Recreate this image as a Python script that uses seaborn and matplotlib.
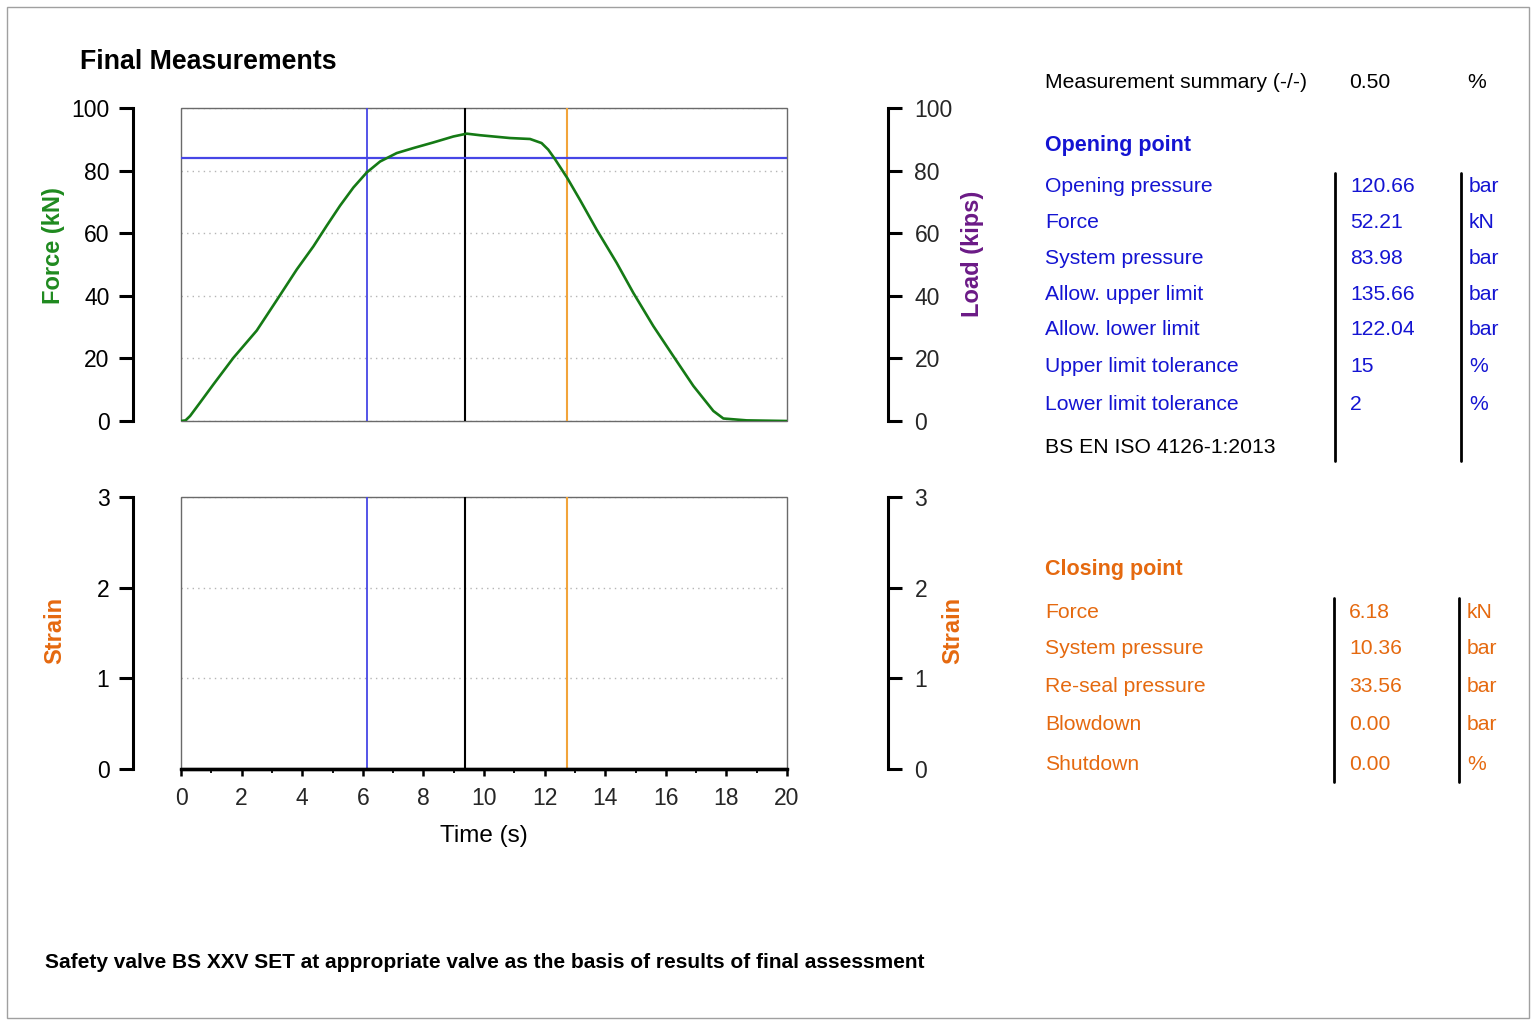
import matplotlib
matplotlib.use("Agg")
import matplotlib.pyplot as plt
import seaborn as sns
import pandas as pd
from matplotlib.patches import Rectangle
from matplotlib.lines import Line2D
from matplotlib.ticker import MultipleLocator

# ---------------- data ----------------
time_s = [0, 0.15, 0.30, 0.63, 1.07, 1.73, 2.50, 3.16, 3.82, 4.37, 4.81, 5.25, 5.69,
          6.13, 6.57, 7.12, 7.67, 8.33, 8.99, 9.43, 9.87, 10.86, 11.52, 11.90, 12.12,
          12.34, 12.75, 13.17, 13.72, 14.38, 14.93, 15.59, 16.25, 16.91, 17.57, 17.90,
          18.67, 20]
force_kN = [0, 0.2, 1.6, 5.9, 11.7, 20.2, 28.9, 38.6, 48.4, 55.8, 62.4, 68.8, 74.6,
            79.4, 82.9, 85.6, 87.2, 89.0, 90.9, 91.8, 91.3, 90.4, 90.1, 88.8, 86.7,
            83.7, 77.6, 70.6, 61.1, 50.5, 40.9, 30.3, 20.7, 11.2, 3.2, 0.8,
            0.2, 0]
strain_time = [0, 5, 10, 15, 20]
strain_vals = [0, 0, 0, 0, 0]

opening_time = 6.14
peak_time = 9.37
closing_time = 12.74
opening_level = 83.9

force_ticks = [0, 20, 40, 60, 80, 100]
strain_ticks = [0, 1, 2, 3]
time_ticks = [0, 2, 4, 6, 8, 10, 12, 14, 16, 18, 20]

summary_label = "Measurement summary (-/-)"
summary_value = "0.50"
summary_unit = "%"

open_labels = ["Opening pressure", "Force", "System pressure", "Allow. upper limit",
               "Allow. lower limit", "Upper limit tolerance", "Lower limit tolerance"]
open_values = ["120.66", "52.21", "83.98", "135.66", "122.04", "15", "2"]
open_units = ["bar", "kN", "bar", "bar", "bar", "%", "%"]
standard_text = "BS EN ISO 4126-1:2013"

close_labels = ["Force", "System pressure", "Re-seal pressure", "Blowdown", "Shutdown"]
close_values = ["6.18", "10.36", "33.56", "0.00", "0.00"]
close_units = ["kN", "bar", "bar", "bar", "%"]

title_text = "Final Measurements"
caption_text = "Safety valve BS XXV SET at appropriate valve as the basis of results of final assessment"

# ---------------- style ----------------
sns.set_theme(style="white")
REG = ["Liberation Sans", "DejaVu Sans"]
plt.rcParams["font.family"] = REG

GREEN = "#157a15"
GREEN_LBL = "#1f8a1f"
PURPLE = "#6b1a86"
ORANGE = "#e5690f"
BLUE_TXT = "#1414d2"
BLUE_LN = "#4646e6"
ORANGE_LN = "#f2a43a"
GRID = dict(color="#b5b5b5", linestyle=(0, (1, 3)), linewidth=1.0)
TICK_FS = 16.5

W, H = 1537, 1023
fig = plt.figure(figsize=(W / 100, H / 100), dpi=100)
fig.patch.set_facecolor("white")

def fx(px):
    return px / W

def fy(py):
    return 1 - py / H

L, R = 181, 787
ax1 = fig.add_axes([fx(L), fy(421), fx(R) - fx(L), fy(108) - fy(421)])
ax2 = fig.add_axes([fx(L), fy(769), fx(R) - fx(L), fy(497) - fy(769)])

LEFT_OFF = 48 * 0.72
RIGHT_OFF = 101 * 0.72


def style_main(ax, ylim, yticks, bottom_axis):
    ax.set_facecolor("none")
    ax.set_xlim(0, 20)
    ax.set_ylim(*ylim)
    ax.set_yticks(yticks)
    for s in ["top", "right"]:
        ax.spines[s].set_visible(False)
    ax.spines["left"].set_position(("outward", LEFT_OFF))
    ax.spines["left"].set_linewidth(2.2)
    ax.spines["left"].set_color("black")
    ax.tick_params(axis="y", left=True, direction="out", length=10, width=2.2,
                   color="black", labelsize=TICK_FS, pad=7, labelcolor="black")
    ax.yaxis.grid(True, **GRID)
    ax.xaxis.grid(False)
    ax.add_patch(Rectangle((0, 0), 1, 1, transform=ax.transAxes, fill=False,
                           edgecolor="#6a6a6a", linewidth=1.0, clip_on=False, zorder=1))
    if bottom_axis:
        ax.spines["bottom"].set_linewidth(2.4)
        ax.spines["bottom"].set_color("black")
        ax.spines["bottom"].set_zorder(6)
        ax.set_xticks(time_ticks)
        ax.xaxis.set_minor_locator(MultipleLocator(1))
        ax.tick_params(axis="x", which="major", bottom=True, direction="out", length=5,
                       width=1.8, color="black", labelsize=TICK_FS, pad=8)
        ax.tick_params(axis="x", which="minor", bottom=True, direction="out", length=3,
                       width=1.3, color="black")
    else:
        ax.spines["bottom"].set_visible(False)
        ax.set_xticks(time_ticks)
        ax.tick_params(axis="x", bottom=False, labelbottom=False)


def add_right(ax, ylim, yticks, label, color, xpos):
    tw = ax.twinx()
    tw.set_ylim(*ylim)
    tw.set_yticks(yticks)
    for s in ["top", "left", "bottom"]:
        tw.spines[s].set_visible(False)
    tw.spines["right"].set_position(("outward", RIGHT_OFF))
    tw.spines["right"].set_linewidth(2.2)
    tw.spines["right"].set_color("black")
    tw.tick_params(axis="y", right=True, direction="out", length=10, width=2.2,
                   color="black", labelsize=TICK_FS, pad=9)
    tw.grid(False)
    tw.set_ylabel(label, color=color, fontsize=17, fontweight="bold")
    tw.yaxis.set_label_coords(xpos[0], xpos[1])
    return tw


style_main(ax1, (0, 100), force_ticks, False)
style_main(ax2, (0, 3), strain_ticks, True)

# top panel data
df_force = pd.DataFrame({"Time": time_s, "Force": force_kN})
sns.lineplot(data=df_force, x="Time", y="Force", ax=ax1, color=GREEN, linewidth=1.9,
             zorder=4, legend=False)
for ax in (ax1, ax2):
    ax.axvline(opening_time, color=BLUE_LN, linewidth=1.3, zorder=3)
    ax.axvline(peak_time, color="black", linewidth=1.5, zorder=3)
    ax.axvline(closing_time, color=ORANGE_LN, linewidth=1.5, zorder=3)
ax1.axhline(opening_level, color=BLUE_LN, linewidth=1.6, zorder=3)

df_strain = pd.DataFrame({"Time": strain_time, "Strain": strain_vals})
sns.lineplot(data=df_strain, x="Time", y="Strain", ax=ax2, color="black",
             linewidth=2.4, zorder=5, legend=False, clip_on=False)

ax1.set_xlabel("")
ax1.set_ylabel("Force (kN)", color=GREEN_LBL, fontsize=17, fontweight="bold")
ax1.yaxis.set_label_coords(-0.191, 0.559)
ax2.set_ylabel("Strain", color=ORANGE, fontsize=17, fontweight="bold")
ax2.yaxis.set_label_coords(-0.19, 0.51)
ax2.set_xlabel("Time (s)", fontsize=17.5, color="black", labelpad=11)

add_right(ax1, (0, 100), force_ticks, "Load (kips)", PURPLE, (1.287, 0.533))
add_right(ax2, (0, 3), strain_ticks, "Strain", ORANGE, (1.254, 0.51))

# ---------------- texts ----------------
fig.text(fx(80), fy(62), title_text, fontsize=19.3, fontweight="bold",
         ha="left", va="center", color="black")
fig.text(fx(45), fy(963), caption_text, fontsize=15, fontweight="bold",
         ha="left", va="center", color="black")

TS = 15.2
HS = 15.5
X_LBL, X_VAL, X_UNIT = 1045, 1350, 1469
fig.text(fx(X_LBL), fy(83), summary_label, fontsize=TS, color="black", ha="left", va="center")
fig.text(fx(1349), fy(83), summary_value, fontsize=TS, color="black", ha="left", va="center")
fig.text(fx(1467), fy(83), summary_unit, fontsize=TS, color="black", ha="left", va="center")

fig.text(fx(X_LBL), fy(145), "Opening point", fontsize=HS, fontweight="bold",
         color=BLUE_TXT, ha="left", va="center")
open_rows = [186, 222, 258, 294, 330, 367, 405]
for yy, lab, val, unit in zip(open_rows, open_labels, open_values, open_units):
    fig.text(fx(X_LBL), fy(yy), lab, fontsize=TS, color=BLUE_TXT, ha="left", va="center")
    fig.text(fx(X_VAL), fy(yy), val, fontsize=TS, color=BLUE_TXT, ha="left", va="center")
    fig.text(fx(X_UNIT), fy(yy), unit, fontsize=TS, color=BLUE_TXT, ha="left", va="center")
fig.text(fx(X_LBL), fy(447), standard_text, fontsize=TS, color="black", ha="left", va="center")
for xx in (1335, 1461):
    fig.add_artist(Line2D([fx(xx), fx(xx)], [fy(173), fy(461)], color="black",
                          linewidth=2.0, transform=fig.transFigure))

fig.text(fx(X_LBL), fy(569), "Closing point", fontsize=HS, fontweight="bold",
         color=ORANGE, ha="left", va="center")
close_rows = [612, 649, 687, 725, 764]
for yy, lab, val, unit in zip(close_rows, close_labels, close_values, close_units):
    fig.text(fx(X_LBL), fy(yy), lab, fontsize=TS, color=ORANGE, ha="left", va="center")
    fig.text(fx(1349), fy(yy), val, fontsize=TS, color=ORANGE, ha="left", va="center")
    fig.text(fx(1467), fy(yy), unit, fontsize=TS, color=ORANGE, ha="left", va="center")
for xx in (1334, 1459):
    fig.add_artist(Line2D([fx(xx), fx(xx)], [fy(598), fy(782)], color="black",
                          linewidth=2.0, transform=fig.transFigure))

# outer border
fig.add_artist(Rectangle((fx(7), fy(1018)), fx(1529) - fx(7), fy(7) - fy(1018),
                         transform=fig.transFigure, fill=False, edgecolor="#a0a0a0",
                         linewidth=1.0))

fig.savefig("out.png", dpi=100, facecolor="white")
